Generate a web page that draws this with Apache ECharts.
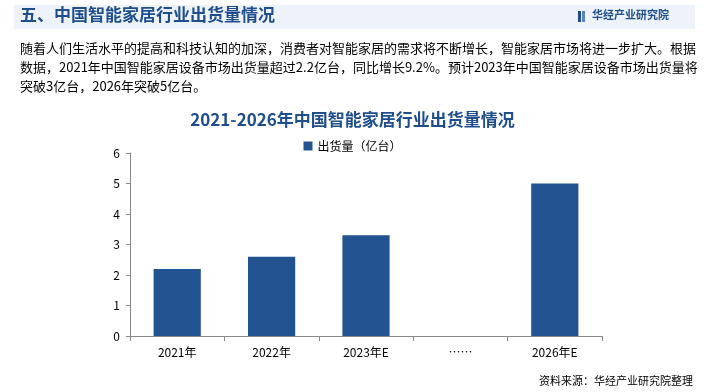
<!DOCTYPE html>
<html><head><meta charset="utf-8">
<script src="https://cdn.jsdelivr.net/npm/echarts@6/dist/echarts.min.js"></script>
<style>html,body{margin:0;padding:0;background:#fff}#c{width:705px;height:392px}</style>
</head><body><div id="c"></div>
<script>
const categories = ['2021年', '2022年', '2023年E', '……', '2026年E'];
const shipments = [2.2, 2.6, 3.3, null, 5.0];
const yTicks = {min: 0, max: 6, interval: 1};
const seriesName = '出货量（亿台）';
const pageTitle = '五、中国智能家居行业出货量情况';
const chartTitle = '2021-2026年中国智能家居行业出货量情况';
const paraLines = [
  '随着人们生活水平的提高和科技认知的加深，消费者对智能家居的需求将不断增长，智能家居市场将进一步扩大。根据',
  '数据，2021年中国智能家居设备市场出货量超过2.2亿台，同比增长9.2%。预计2023年中国智能家居设备市场出货量将',
  '突破3亿台，2026年突破5亿台。'
];
const sourceText = '资料来源：华经产业研究院整理';
const brand = '华经产业研究院';

const font = '"Noto Sans CJK SC", "Noto Sans", sans-serif';
const chart = echarts.init(document.getElementById('c'));
const graphic = [
  {type:'rect', shape:{x:14,y:5,width:681,height:24}, style:{fill:'#EEF3FB'}},
  {type:'text', left:20, top:6, style:{text:pageTitle, fill:'#1F4E8C', font:'bold 17px '+font}},
  {type:'rect', shape:{x:578,y:11,width:3,height:11}, style:{fill:'#1F4E8C'}},
  {type:'rect', shape:{x:582,y:11,width:3,height:11}, style:{fill:'#5B84C0'}},
  {type:'text', left:592, top:9, style:{text:brand, fill:'#1F4E8C', font:'bold 11px '+font}},
  {type:'text', right:12, top:375, style:{text:sourceText, fill:'#000', font:'11px '+font}}
];
paraLines.forEach((t,i)=>{
  graphic.push({type:'text', left:20, top:42+i*19, style:{text:t, fill:'#000', font:'13px '+font}});
});
chart.setOption({
  animation:false,
  textStyle:{fontFamily:font},
  title:{text:chartTitle, left:'center', top:106, textStyle:{color:'#1F4E8C', fontSize:17, fontWeight:'bold', fontFamily:font}},
  legend:{top:135, left:'center', itemWidth:9, itemHeight:9, icon:'rect', textStyle:{fontSize:12, color:'#000'}, data:[seriesName]},
  grid:{left:130, right:103, top:153, bottom:56},
  xAxis:{type:'category', data:categories,
    axisLine:{lineStyle:{color:'#888'}}, axisTick:{show:true, lineStyle:{color:'#888'}, length:5},
    axisLabel:{color:'#000', fontSize:12, margin:10}},
  yAxis:{type:'value', min:yTicks.min, max:yTicks.max, interval:yTicks.interval,
    axisLine:{show:true, lineStyle:{color:'#888'}}, axisTick:{show:true, lineStyle:{color:'#888'}, length:4},
    splitLine:{show:false}, axisLabel:{color:'#000', fontSize:12, margin:10}},
  series:[{name:seriesName, type:'bar', data:shipments, barWidth:'50%', itemStyle:{color:'#22528F'}}],
  graphic: graphic
});
</script></body></html>
